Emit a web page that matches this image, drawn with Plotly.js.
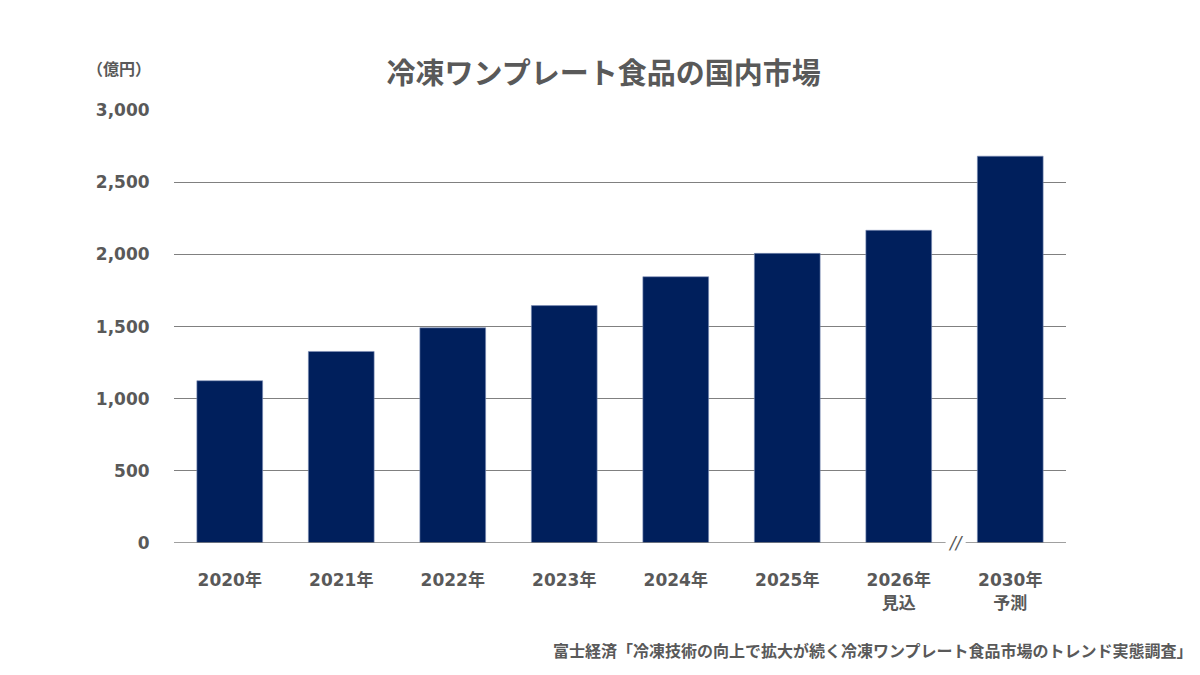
<!DOCTYPE html>
<html>
<head>
<meta charset="utf-8">
<script src="https://cdn.plot.ly/plotly-3.0.1.min.js"></script>
<style>
  html, body { margin: 0; padding: 0; background: #fff; }
  #chart { width: 1200px; height: 675px; }
</style>
</head>
<body>
<div id="chart"></div>
<script>
const years = ["2020年", "2021年", "2022年", "2023年", "2024年", "2025年", "2026年", "2030年"];
const notes = ["", "", "", "", "", "", "見込", "予測"];
const marketSize = [1125, 1328, 1492, 1646, 1846, 2008, 2168, 2682];
const yTicks = [0, 500, 1000, 1500, 2000, 2500, 3000];

const textColor = '#595959';
const barColor = '#001f5c';
const fontFamily = '"DejaVu Sans", "Noto Sans CJK JP", sans-serif';
const cjkFont = '"Noto Sans CJK JP", "Noto Sans", sans-serif';

const tickText = years.map((y, i) => notes[i] ? `<b>${y}</b><br><b>${notes[i]}</b>` : `<b>${y}</b>`);

const trace = {
  type: 'bar',
  x: years,
  y: marketSize,
  marker: { color: barColor, line: { color: '#8090b8', width: 0.6 } },
  hoverinfo: 'x+y',
};

// baseline with a break between 2026 and 2030
const base = { type: 'line', xref: 'x', yref: 'y', y0: 0, y1: 0, line: { color: '#808080', width: 1.3 } };

const layout = {
  width: 1200,
  height: 675,
  margin: { l: 174, r: 134, t: 110, b: 132 },
  paper_bgcolor: '#fff',
  plot_bgcolor: '#fff',
  font: { family: fontFamily, color: textColor },
  title: {
    text: '<b>冷凍ワンプレート食品の国内市場</b>',
    font: { size: 29, color: textColor, family: cjkFont },
    x: 0.503, xanchor: 'center', y: 0.89, yanchor: 'middle',
  },
  bargap: 0.41,
  showlegend: false,
  xaxis: {
    type: 'category',
    tickvals: years,
    ticktext: tickText,
    tickfont: { size: 17, color: textColor },
    showgrid: false,
    showline: false,
    zeroline: false,
    ticks: 'outside',
    ticklen: 22,
    tickcolor: 'rgba(0,0,0,0)',
    range: [-0.5, 7.5],
  },
  yaxis: {
    range: [0, 3002],
    tickvals: yTicks,
    ticktext: yTicks.map(v => '<b>' + v.toLocaleString('en-US') + '</b>'),
    tickfont: { size: 17, color: textColor },
    showgrid: true,
    gridcolor: '#808080',
    gridwidth: 1.2,
    zeroline: false,
    showline: false,
    ticks: 'outside',
    ticklen: 20,
    tickcolor: 'rgba(0,0,0,0)',
  },
  shapes: [
    Object.assign({}, base, { x0: -0.5, x1: 6.42 }),
    Object.assign({}, base, { x0: 6.6, x1: 7.5 }),
  ],
  annotations: [
    {
      text: '<b>（億円）</b>', xref: 'paper', yref: 'paper', x: -0.023, y: 1.098,
      xanchor: 'right', yanchor: 'middle', showarrow: false,
      font: { size: 16, color: textColor, family: cjkFont },
    },
    {
      text: '<i>//</i>', xref: 'x', yref: 'y', x: 6.51, y: 0,
      xanchor: 'center', yanchor: 'middle', showarrow: false,
      font: { size: 17, color: textColor },
    },
    {
      text: '<b>富士経済「冷凍技術の向上で拡大が続く冷凍ワンプレート食品市場のトレンド実態調査」</b>',
      xref: 'paper', yref: 'paper', x: 1.145, y: -0.247,
      xanchor: 'right', yanchor: 'middle', showarrow: false,
      font: { size: 16, color: textColor, family: cjkFont },
    },
  ],
};

Plotly.newPlot('chart', [trace], layout, { staticPlot: true });
</script>
</body>
</html>
